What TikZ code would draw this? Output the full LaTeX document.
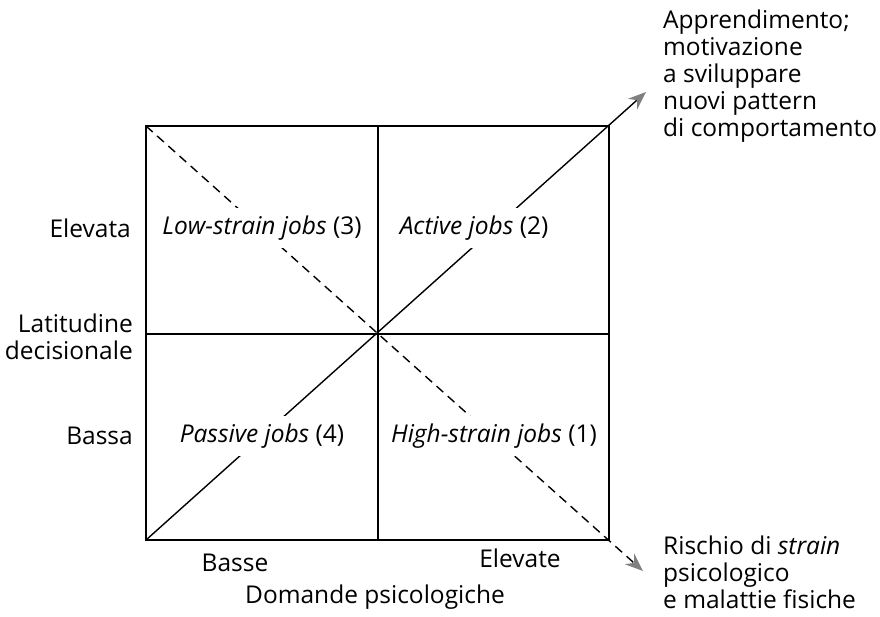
\documentclass[tikz,border=0pt]{standalone}
\usepackage{fontspec}
\setmainfont{Open Sans}
\usetikzlibrary{arrows.meta}
\begin{document}
\begin{tikzpicture}[x=1pt,y=-1pt,
  frame/.style={line width=1.5pt},
  diag/.style={line width=1.4pt},
  arr/.style={-{Stealth[length=18pt,width=14pt,color=gray,fill=gray]}},
  dsh/.style={dash pattern=on 9pt off 6pt},
  lbl/.style={font=\fontsize{24.5}{27}\selectfont, inner sep=0pt},
  cell/.style={lbl, fill=white, inner sep=8pt},
]
\useasboundingbox (0,0) rectangle (880,616);
\coordinate (tl) at (146,126);
\coordinate (tr) at (609,126);
\coordinate (bl) at (146,540);
\coordinate (br) at (609,540);
\coordinate (mt) at (378,126);
\coordinate (mb) at (378,540);
\coordinate (ml) at (146,334);
\coordinate (mr) at (609,334);
\coordinate (tipup) at (646,92);
\coordinate (tipdn) at (643,571);
% frame and cross
\draw[frame] (tl) rectangle (br);
\draw[frame] (mt) -- (mb);
\draw[frame] (ml) -- (mr);
% diagonals
\draw[diag,arr] (bl) -- (tipup);
\draw[diag,dsh,arr] (tl) -- (tipdn);
% cell labels
\node[cell] (c3) at (262,228) {\textit{Low-strain jobs} (3)};
\node[cell] (c2) at (474,228) {\textit{Active jobs} (2)};
\node[cell] (c4) at (262,436) {\textit{Passive jobs} (4)};
\node[cell] (c1) at (494,436) {\textit{High-strain jobs} (1)};
% axis labels
\node[lbl, anchor=east] (elev) at (131,228) {Elevata};
\node[lbl, anchor=east, align=right] (lat) at (133,337) {Latitudine\\decisionale};
\node[lbl, anchor=east] (bassa) at (133,436) {Bassa};
\node[lbl] (basse) at (235,563) {Basse};
\node[lbl] (elevate) at (520,558) {Elevate};
\node[lbl] (dom) at (375,597) {Domande psicologiche};
% outcome labels
\node[lbl, anchor=north west, align=left] (out1) at (663,10) {Apprendimento;\\motivazione\\a sviluppare\\nuovi pattern\\di comportamento};
\node[lbl, anchor=west, align=left] (out2) at (663,572) {Rischio di \textit{strain}\\psicologico\\e malattie fisiche};
\end{tikzpicture}
\end{document}
